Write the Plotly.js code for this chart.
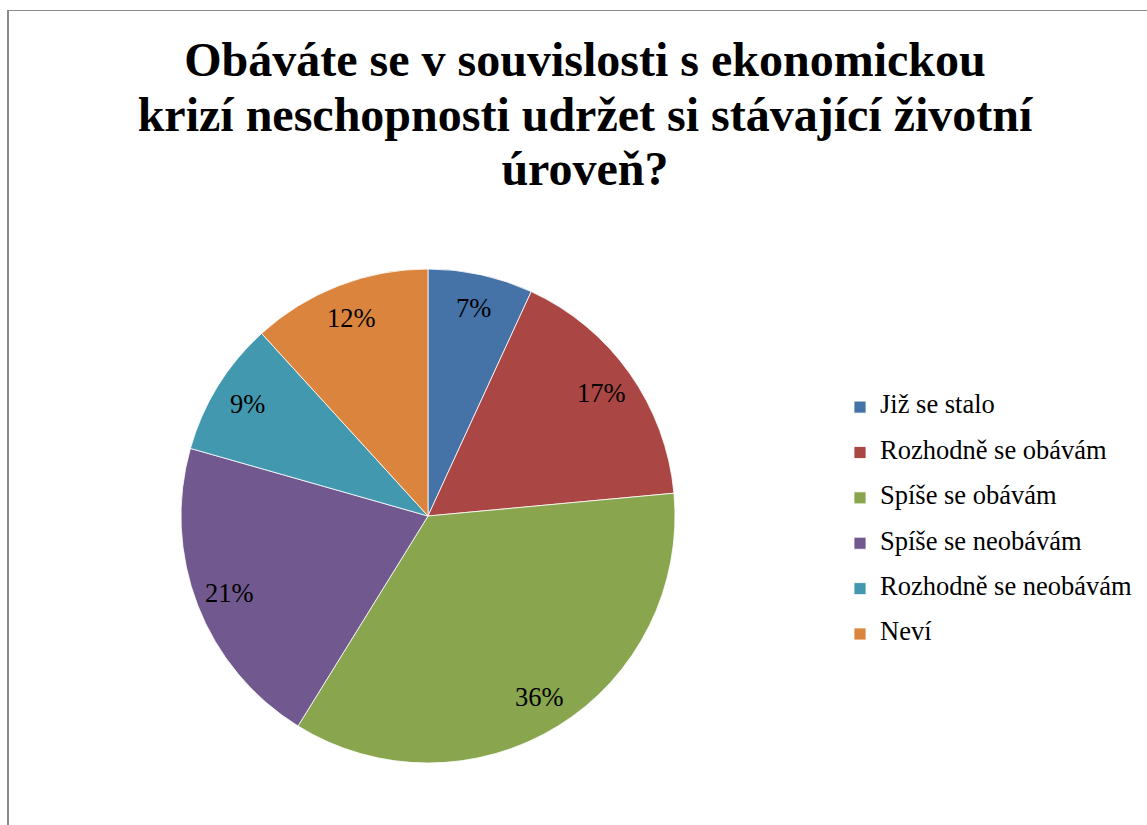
<!DOCTYPE html>
<html><head><meta charset="utf-8">
<script src="https://cdn.plot.ly/plotly-3.0.1.min.js"></script>
<style>
html,body{margin:0;padding:0;background:#fff;}
#wrap{position:relative;width:1147px;height:825px;overflow:hidden;}
#chart{position:absolute;left:0;top:0;width:1147px;height:825px;}
#frame{position:absolute;left:7px;top:10px;width:1200px;height:900px;border-left:2px solid #8a8a8a;border-top:1px solid #8a8a8a;pointer-events:none;}
</style></head>
<body><div id="wrap"><div id="chart"></div><div id="frame"></div></div>
<script>
const labels = ["Již se stalo","Rozhodně se obávám","Spíše se obávám","Spíše se neobávám","Rozhodně se neobávám","Neví"];
const values = [7,17,36,21,9,12];
const colors = ["#4572A7","#AA4643","#89A54E","#71588F","#4198AF","#DB843D"];
const titleLines = ["Obáváte se v souvislosti s ekonomickou","krizí neschopnosti udržet si stávající životní","úroveň?"];

const W = 1147, H = 825;
const cxPx = 428, cyPx = 516, R = 247;
const dom = {x:[(cxPx-R)/W,(cxPx+R)/W], y:[(H-cyPx-R)/H,(H-cyPx+R)/H]};

// legend labels: text at 26.5px, larger line spacing via 2-line trick
const legLabels = labels.map(l => "<span style='font-size:26.5px'>" + l + "</span><br><span style='font-size:1px'> </span>");
const titleText = titleLines.map(t => "<span style='font-size:48px'>" + t + "</span>").join("<br>");

const total = values.reduce((a,b)=>a+b,0);
let cum = 0;
const annotations = values.map(v => {
  const mid = (cum + v/2)/total * 2*Math.PI; cum += v;
  const rl = 0.86*R;
  return {x:(cxPx + rl*Math.sin(mid))/W, y:(H - cyPx + rl*Math.cos(mid))/H,
    xref:'paper', yref:'paper', xanchor:'center', yanchor:'middle', text: v + '%', showarrow:false,
    font:{family:'Liberation Serif', size:26.5, color:'#000'}};
});

Plotly.newPlot('chart', [{
  type:'pie', labels: legLabels, values: values, sort:false, direction:'clockwise', rotation:0,
  marker:{colors: colors, line:{color:'#ffffff', width:0.8}},
  textinfo:'none', hoverinfo:'label+value', domain: dom
}], {
  width:W, height:H, margin:{l:0,r:0,t:0,b:0}, paper_bgcolor:'#fff',
  title:{text: titleText,
    font:{family:'Liberation Serif', size:42, color:'#000', weight:'bold'},
    x:585/W, xanchor:'center', y:1-76/H, yanchor:'top', xref:'container', yref:'container'},
  showlegend:true,
  legend:{x:840/W, xanchor:'left', y:1-390/H, yanchor:'top', valign:'top',
    font:{family:'Liberation Serif', size:16.3, color:'#000'}, bgcolor:'rgba(0,0,0,0)'},
  annotations: annotations
}, {displayModeBar:false, staticPlot:true});
</script></body></html>
